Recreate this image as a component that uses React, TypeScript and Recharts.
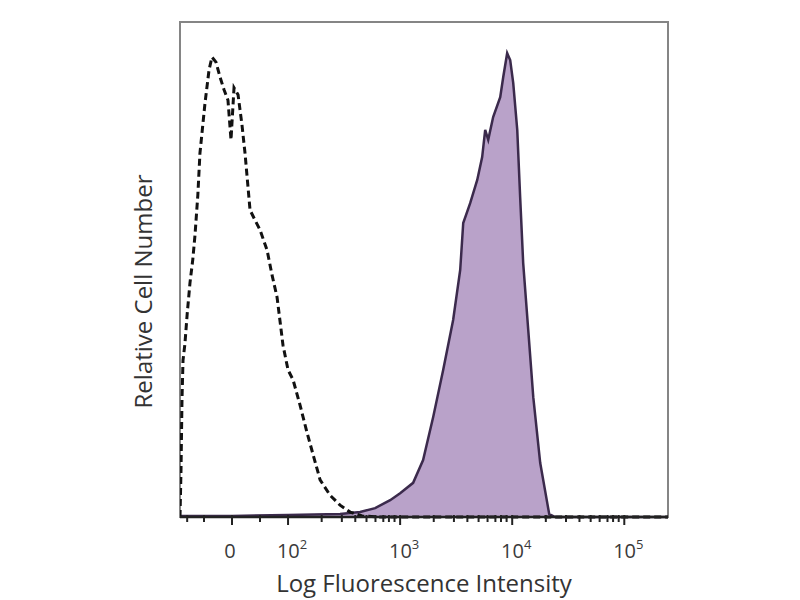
import React from 'react';
import { ComposedChart, Area, Line, XAxis, YAxis, Label, ReferenceArea } from 'recharts';

// x in display units (log decades, linear region below 10^2), y = relative count
const isoX = [1.036, 1.045, 1.054, 1.063, 1.08, 1.1, 1.125, 1.15, 1.17, 1.195, 1.214, 1.259, 1.295, 1.321, 1.357, 1.393, 1.429, 1.464, 1.491, 1.518, 1.554, 1.589, 1.616, 1.661, 1.705, 1.75, 1.813, 1.857, 1.902, 1.955, 2.0, 2.045, 2.107, 2.17, 2.232, 2.286, 2.375, 2.464, 2.554, 2.661, 2.82, 5.39];
const isoY = [0, 9.5, 24, 31.7, 35, 41, 47.3, 52, 57, 65, 73.5, 83.6, 90.3, 92.9, 91.9, 88.9, 86.3, 84.2, 76.2, 86.7, 85.3, 79.2, 73.5, 62.0, 60.0, 58.0, 53.9, 48.9, 44.4, 34.7, 29.7, 27.7, 22.6, 17.0, 11.9, 7.5, 4.4, 2.4, 1.0, 0.2, 0, 0];

const stainX = [1.036, 1.5, 2.0, 2.464, 2.643, 2.777, 2.911, 3.0, 3.116, 3.205, 3.295, 3.384, 3.473, 3.536, 3.563, 3.625, 3.688, 3.732, 3.759, 3.786, 3.83, 3.893, 3.92, 3.955, 3.982, 4.009, 4.045, 4.071, 4.098, 4.143, 4.188, 4.25, 4.313, 4.33, 4.384, 5.39];
const stainY = [0.2, 0.2, 0.4, 0.6, 1.0, 1.8, 3.4, 4.8, 6.9, 11.5, 20.2, 29.7, 39.8, 49.9, 59.4, 63.4, 68.1, 72.7, 78.2, 76.2, 80.8, 84.8, 88.9, 93.7, 92.3, 87.7, 78.2, 64.6, 51.3, 37.8, 24.2, 10.9, 2.8, 0.6, 0, 0];

const majorTicks = [1.5, 2, 3, 4, 5];
const majorLabels = ['0', '10|2', '10|3', '10|4', '10|5'];
const minorTicks = [1.1, 1.25, 1.75, 2.3, 2.48, 2.6, 2.7, 2.78, 2.85, 2.9, 2.95, 3.3, 3.48, 3.6, 3.7, 3.78, 3.85, 3.9, 3.95, 4.3, 4.48, 4.6, 4.7, 4.78, 4.85, 4.9, 4.95];

const isoData = isoX.map((x, i) => ({ x, y: isoY[i] }));
const stainData = stainX.map((x, i) => ({ x, y: stainY[i] }));
const allTicks = [...majorTicks, ...minorTicks].sort((a, b) => a - b);

const FONT = '"Open Sans", Lato, sans-serif';

const AxisTick = (props: any) => {
  const { x, y, payload } = props;
  const idx = majorTicks.indexOf(payload.value);
  const major = idx >= 0;
  let text: React.ReactNode = null;
  if (major) {
    const [base, exp] = majorLabels[idx].split('|');
    text = (
      <text x={exp ? x + 4 : x - 2} y={y + 41} textAnchor="middle" fontFamily={FONT} fontSize={20} fill="#3a3a3a">
        <tspan>{base}</tspan>
        {exp && <tspan dy={-9} fontSize={13}>{exp}</tspan>}
      </text>
    );
  }
  return (
    <g>
      <line x1={x} x2={x} y1={y - 2} y2={y + (major ? 8 : 5)} stroke="#222" strokeWidth={2} />
      {text}
    </g>
  );
};

const YTitle = (props: any) => {
  const { viewBox } = props;
  const cx = viewBox.x - 37;
  const cy = viewBox.y + viewBox.height / 2 + 22;
  return (
    <text x={cx} y={cy} transform={`rotate(-90 ${cx} ${cy})`} textAnchor="middle" dominantBaseline="central"
      fontFamily={FONT} fontSize={24} fill="#333">
      Relative Cell Number
    </text>
  );
};

export default function App() {
  return (
    <div style={{ position: 'fixed', left: 0, top: 0, width: 800, height: 600, background: '#fff' }}>
      <ComposedChart width={800} height={600} margin={{ top: 22, right: 132, bottom: 0, left: 179 }}>
        <XAxis
          type="number"
          dataKey="x"
          domain={[1.036, 5.39]}
          allowDataOverflow
          ticks={allTicks}
          interval={0}
          tick={<AxisTick />}
          tickLine={false}
          tickSize={0}
          tickMargin={0}
          height={83}
          axisLine={{ stroke: '#222', strokeWidth: 2.5 }}
        >
          <Label value="Log Fluorescence Intensity" position="insideBottom" offset={8}
            style={{ fontFamily: FONT, fontSize: 24, fill: '#333' }} />
        </XAxis>
        <YAxis type="number" domain={[0, 100]} width={1} tick={false} tickLine={false}
          axisLine={false} label={<YTitle />} />
        <ReferenceArea x1={1.036} x2={5.39} y1={0} y2={100} fill="none" stroke="#858585" strokeWidth={2} ifOverflow="visible" />
        <Area
          data={stainData}
          dataKey="y"
          type="linear"
          fill="#b9a2c9"
          fillOpacity={1}
          stroke="#3b2a4c"
          strokeWidth={2.5}
          isAnimationActive={false}
        />
        <Line
          data={isoData}
          dataKey="y"
          type="linear"
          stroke="#111"
          strokeWidth={3}
          strokeDasharray="7 4"
          dot={false}
          isAnimationActive={false}
        />
      </ComposedChart>
    </div>
  );
}
